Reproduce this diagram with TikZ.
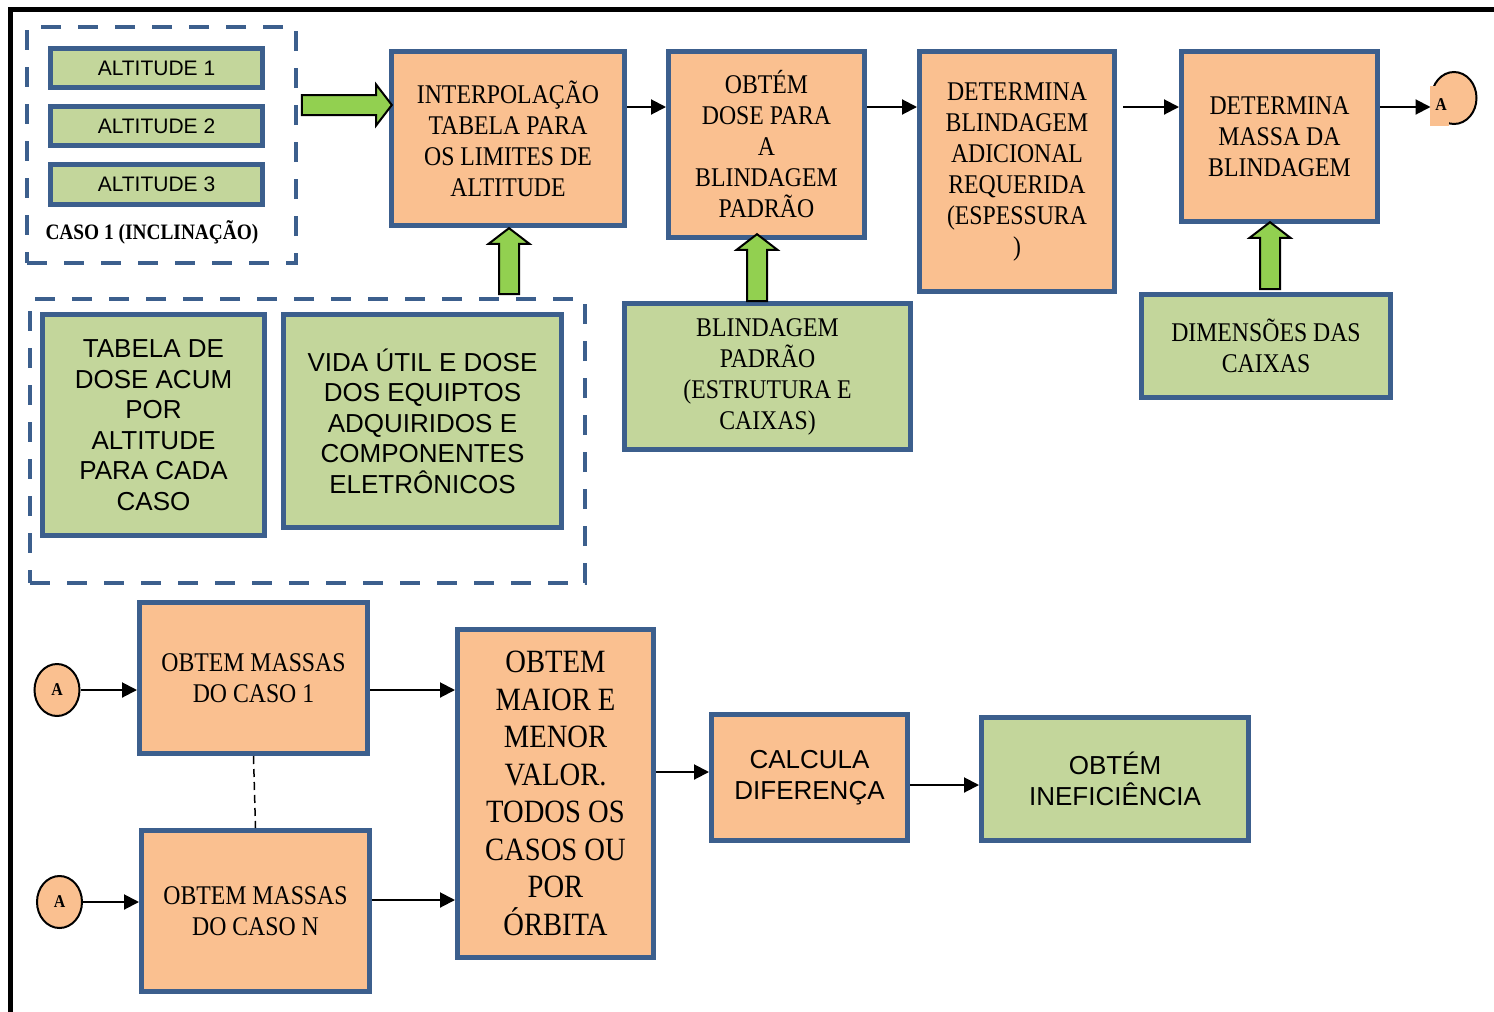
\documentclass[tikz,border=0pt]{standalone}
\usepackage{fontspec}
\setmainfont{Liberation Serif}
\newfontfamily\cambria[FakeStretch=0.88]{Liberation Serif}
\newfontfamily\arial{Liberation Sans}
\usetikzlibrary{arrows.meta,shapes.geometric,shapes.arrows,calc}

\definecolor{azulborda}{HTML}{3C5F8D}
\definecolor{laranja}{HTML}{FAC090}
\definecolor{verdecaixa}{HTML}{C3D69B}
\definecolor{verdeseta}{HTML}{92D050}

\begin{document}
\begin{tikzpicture}[x=1pt,y=-1pt,
    caixa/.style={draw=azulborda, line width=5pt, align=center, inner sep=0pt},
    caixalar/.style={caixa, fill=laranja},
    caixaverde/.style={caixa, fill=verdecaixa},
    txtserif/.style={font=\cambria\fontsize{27}{31}\selectfont},
    txtsans/.style={font=\arial\fontsize{26}{30.5}\selectfont},
    grupo/.style={draw=azulborda, line width=4pt, dash pattern=on 20pt off 17pt},
    seta/.style={-{Triangle[length=15pt,width=15pt]}, line width=2pt},
    tracofino/.style={line width=1.5pt, dash pattern=on 8pt off 5pt},
    setaverde/.style={single arrow, draw=black, line width=2pt, fill=verdeseta,
        inner xsep=0pt, inner ysep=9pt, text height=0pt, text depth=0pt,
        single arrow head extend=10.5pt, single arrow tip angle=105},
    circA/.style={ellipse, draw=black, line width=2pt, fill=laranja,
        minimum width=45pt, minimum height=52pt, inner sep=0pt},
    letraA/.style={font=\cambria\bfseries\fontsize{18}{18}\selectfont}]
    \useasboundingbox (0,0) rectangle (1494,1012);
    % moldura
    \draw[line width=4.5pt] (10.5,1012) -- (10.5,9.5) -- (1494,9.5);

    % caso 1
    \node[grupo, minimum width=269pt, minimum height=236pt] (caso1) at (161.5,145) {};
    \node[caixaverde, minimum width=212pt, minimum height=39pt, font=\arial\fontsize{21}{24}\selectfont] (alt1) at (156.5,68) {ALTITUDE 1};
    \node[caixaverde, minimum width=212pt, minimum height=39pt, font=\arial\fontsize{21}{24}\selectfont] (alt2) at (156.5,126) {ALTITUDE 2};
    \node[caixaverde, minimum width=212pt, minimum height=40pt, font=\arial\fontsize{21}{24}\selectfont] (alt3) at (156.5,184.5) {ALTITUDE 3};
    \node[font=\cambria\bfseries\fontsize{22}{24}\selectfont] (rotcaso) at (152,232) {CASO 1 (INCLINAÇÃO)};

    % linha de cima
    \node[caixalar, txtserif, minimum width=233pt, minimum height=174pt] (interp) at (508,138.5)
        {INTERPOLAÇÃO\\TABELA PARA\\OS LIMITES DE\\ALTITUDE};
    \node[caixalar, txtserif, minimum width=196pt, minimum height=186pt] (dose) at (766.5,144.5)
        {OBTÉM\\DOSE PARA\\A\\BLINDAGEM\\PADRÃO};
    \node[caixalar, txtserif, minimum width=195pt, minimum height=240pt] (blindad) at (1017,171.5)
        {DETERMINA\\BLINDAGEM\\ADICIONAL\\REQUERIDA\\(ESPESSURA\\)};
    \node[caixalar, txtserif, minimum width=196pt, minimum height=170pt] (massa) at (1279.5,136.5)
        {DETERMINA\\MASSA DA\\BLINDAGEM};
    \node[circA] (A0) at (1454,98) {};
    \fill[laranja] (1430,86) rectangle (1449,126);
    \node[letraA] (A0txt) at (1441,105) {A};

    % entradas
    \node[grupo, minimum width=555pt, minimum height=284pt] (tabelas) at (307.5,441) {};
    \node[caixaverde, txtsans, minimum width=222pt, minimum height=221pt] (tabdose) at (153.5,425)
        {TABELA DE\\DOSE ACUM\\POR\\ALTITUDE\\PARA CADA\\CASO};
    \node[caixaverde, txtsans, minimum width=278pt, minimum height=213pt] (vida) at (422.5,421)
        {VIDA ÚTIL E DOSE\\DOS EQUIPTOS\\ADQUIRIDOS E\\COMPONENTES\\ELETRÔNICOS};
    \node[caixaverde, txtserif, minimum width=286pt, minimum height=146pt] (blindpad) at (767.5,376.5)
        {BLINDAGEM\\PADRÃO\\(ESTRUTURA E\\CAIXAS)};
    \node[caixaverde, txtserif, minimum width=249pt, minimum height=103pt] (dimens) at (1266,346)
        {DIMENSÕES DAS\\CAIXAS};

    % linha de baixo
    \node[circA] (A1) at (57,690) {};
    \node[letraA] at (A1) {A};
    \node[circA] (A2) at (59.5,902) {};
    \node[letraA] at (A2) {A};
    \node[caixalar, txtserif, minimum width=228pt, minimum height=151pt] (massa1) at (253.5,678)
        {OBTEM MASSAS\\DO CASO 1};
    \node[caixalar, txtserif, minimum width=228pt, minimum height=161pt] (massaN) at (255.5,911)
        {OBTEM MASSAS\\DO CASO N};
    \node[caixalar, font=\cambria\fontsize{32.5}{37.5}\selectfont, minimum width=196pt, minimum height=328pt] (maior) at (555.5,793.5)
        {OBTEM\\MAIOR E\\MENOR\\VALOR.\\TODOS OS\\CASOS OU\\POR\\ÓRBITA};
    \node[caixalar, txtsans, minimum width=196pt, minimum height=126pt] (calc) at (809.5,777.5)
        {CALCULA\\DIFERENÇA};
    \node[caixaverde, txtsans, minimum width=267pt, minimum height=123pt] (inef) at (1115,779)
        {OBTÉM\\INEFICIÊNCIA};

    % setas
    \coordinate (l1) at (0,107);
    \draw[seta] (interp.east |- l1) -- (dose.west |- l1);
    \draw[seta] (dose.east |- l1) -- (blindad.west |- l1);
    \draw[seta] ($(blindad.east |- l1)+(6,0)$) -- (massa.west |- l1);
    \draw[seta] (massa.east |- l1) -- (A0.west |- l1);
    \draw[seta] (A1.east) -- (A1.east -| massa1.west);
    \draw[seta] (massa1.east |- A1.east) -- (maior.west |- A1.east);
    \draw[seta] (A2.east) -- (A2.east -| massaN.west);
    \coordinate (l2) at (0,900);
    \draw[seta] (massaN.east |- l2) -- (maior.west |- l2);
    \coordinate (l3) at (0,772);
    \draw[seta] (maior.east |- l3) -- (calc.west |- l3);
    \coordinate (l4) at (0,785);
    \draw[seta] (calc.east |- l4) -- (inef.west |- l4);
    \draw[tracofino] (massa1.south) -- (massaN.north);

    % setas verdes
    \node[setaverde, minimum height=90pt] (sv1) at (343,105) {};
    \node[setaverde, minimum height=66pt, rotate=90] (sv2) at (509,265) {};
    \node[setaverde, minimum height=67pt, rotate=90] (sv3) at (757,271.5) {};
    \node[setaverde, minimum height=67pt, rotate=90] (sv4) at (1270,259.5) {};
\end{tikzpicture}
\end{document}
